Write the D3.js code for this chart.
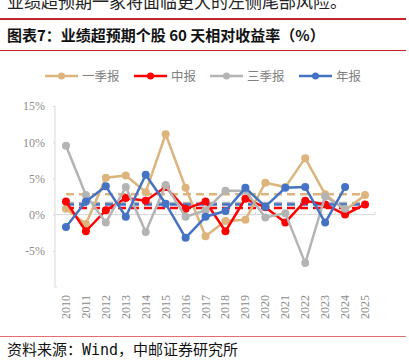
<!DOCTYPE html>
<html lang="zh">
<head>
<meta charset="utf-8">
<title>业绩超预期个股 60 天相对收益率</title>
<script src="https://cdn.jsdelivr.net/npm/d3@7"></script>
<style>
  body { margin: 0; background: #fff; }
  svg text { font-family: "Noto Sans CJK SC", sans-serif; }
  .num { font-family: "Liberation Serif", serif; fill: #8c8c8c; }
</style>
</head>
<body>
<script>
// data
var years = ["2010","2011","2012","2013","2014","2015","2016","2017","2018","2019","2020","2021","2022","2023","2024","2025"];
var q1 = [0.8, -1.3, 5.1, 5.4, 3.1, 11.1, 3.7, -3.0, -0.9, -0.7, 4.4, 3.8, 7.8, 2.8, 0.6, 2.7];       // 一季报
var h1 = [1.8, -2.3, 0.6, 2.3, 1.9, 3.8, 0.8, 1.8, -2.3, 2.2, 1.0, -1.1, 1.9, 1.4, 0.0, 1.4];        // 中报
var q3 = [9.5, 2.7, -1.1, 3.8, -2.4, 4.1, -0.3, 0.6, 3.3, 3.3, -0.4, 0.2, -6.7, 2.5, 0.8, null];     // 三季报
var fy = [-1.7, 1.8, 3.9, -0.3, 5.5, 1.5, -3.2, -0.3, 0.5, 3.7, 1.1, 3.7, 3.8, -1.1, 3.8, null];     // 年报
var avgs = [2.8, 0.9, 1.6, 1.4]; // dashed average lines, same order as names
var names = ["一季报", "中报", "三季报", "年报"];
var colors = ["#dcb47c", "#ff0000", "#b4b4b4", "#4472c4"];
var yTicks = [15, 10, 5, 0, -5];

var W = 409, H = 361;
var svg = d3.select("body").append("svg").attr("width", W).attr("height", H);

// header text, cut off at top
svg.append("text").attr("x", 7).attr("y", 8)
  .style("font-size", "17px").style("fill", "#222")
  .text("业绩超预期一家将面临更大的左侧尾部风险。");

svg.append("rect").attr("x", 0).attr("y", 18).attr("width", 406).attr("height", 2).attr("fill", "#c8232c");
svg.append("text").attr("x", 7).attr("y", 41)
  .style("font-size", "15px").style("font-weight", "bold").style("fill", "#111")
  .text("图表7：业绩超预期个股 60 天相对收益率（%）");
svg.append("rect").attr("x", 0).attr("y", 50).attr("width", 406).attr("height", 1).attr("fill", "#c8232c");

// legend
var legX = [45, 134, 210, 299];
var leg = svg.append("g").selectAll("g").data(names).enter().append("g")
  .attr("transform", function(d, i) { return "translate(" + legX[i] + ",76)"; });
leg.append("line").attr("x1", 0).attr("x2", 33).attr("y1", 0).attr("y2", 0)
  .attr("stroke", function(d, i) { return colors[i]; }).attr("stroke-width", 2.5);
leg.append("circle").attr("cx", 16.5).attr("cy", 0).attr("r", 3.5)
  .attr("fill", function(d, i) { return colors[i]; });
leg.append("text").attr("x", 37).attr("y", 4.5)
  .style("font-size", "12.5px").style("fill", "#7f7f7f")
  .text(function(d) { return d; });

// scales
var x = d3.scaleBand().domain(years).range([56, 375]);
var cx = function(d) { return x(d) + x.bandwidth() / 2; };
var y = d3.scaleLinear().domain([-10, 15]).range([287, 106]);

// axes
var gy = svg.append("g").attr("transform", "translate(55,0)")
  .call(d3.axisLeft(y).tickValues(yTicks).tickSize(2).tickSizeOuter(0)
    .tickFormat(function(d) { return d + "%"; }));
gy.select(".domain").attr("stroke", "#d9d9d9").attr("d", "M0,106V287H2");
gy.selectAll(".tick line").attr("stroke", "#d9d9d9");
gy.selectAll(".tick text").attr("class", "num").attr("x", -10).style("font-size", "12px");

var gx = svg.append("g").attr("transform", "translate(0," + y(0) + ")")
  .call(d3.axisTop(x).tickSize(0).tickFormat(""));
gx.select(".domain").attr("stroke", "#d9d9d9").attr("d", "M55,0H375");
gx.selectAll(".sep").data(years.slice(1).concat(["end"])).enter().append("line")
  .attr("x1", function(d, i) { return 56 + (i + 1) * x.step(); })
  .attr("x2", function(d, i) { return 56 + (i + 1) * x.step(); })
  .attr("y1", 0).attr("y2", -3).attr("stroke", "#d9d9d9");

// category labels, rotated, at the bottom
svg.append("g").selectAll("text").data(years).enter().append("text")
  .attr("class", "num").style("font-size", "12px")
  .attr("text-anchor", "end")
  .attr("transform", function(d) { return "translate(" + (cx(d) + 4) + ",295) rotate(-90)"; })
  .text(function(d) { return d; });

// dashed average lines
svg.append("g").selectAll("line").data(avgs).enter().append("line")
  .attr("x1", cx(years[0])).attr("x2", cx(years[years.length - 1]))
  .attr("y1", function(d) { return y(d); }).attr("y2", function(d) { return y(d); })
  .attr("stroke", function(d, i) { return colors[i]; })
  .attr("stroke-width", 2.5).attr("stroke-dasharray", "8,5");

// series
var series = [q1, h1, q3, fy];
var line = d3.line()
  .defined(function(d) { return d != null; })
  .x(function(d, i) { return cx(years[i]); })
  .y(function(d) { return y(d); });

series.forEach(function(vals, k) {
  var g = svg.append("g");
  g.append("path").datum(vals).attr("d", line)
    .attr("fill", "none").attr("stroke", colors[k]).attr("stroke-width", 2.5)
    .attr("stroke-linejoin", "round");
  g.selectAll("circle").data(vals.map(function(v, i) { return { v: v, yr: years[i] }; })
      .filter(function(d) { return d.v != null; }))
    .enter().append("circle")
    .attr("cx", function(d) { return cx(d.yr); })
    .attr("cy", function(d) { return y(d.v); })
    .attr("r", 4).attr("fill", colors[k]);
});

// source
svg.append("rect").attr("x", 0).attr("y", 336).attr("width", 406).attr("height", 1).attr("fill", "#e07070");
svg.append("text").attr("x", 7).attr("y", 355)
  .style("font-size", "15px").style("fill", "#111")
  .style("font-family", "'DejaVu Sans Mono', 'Noto Sans CJK SC', monospace")
  .text("资料来源：Wind，中邮证券研究所");
</script>
</body>
</html>
